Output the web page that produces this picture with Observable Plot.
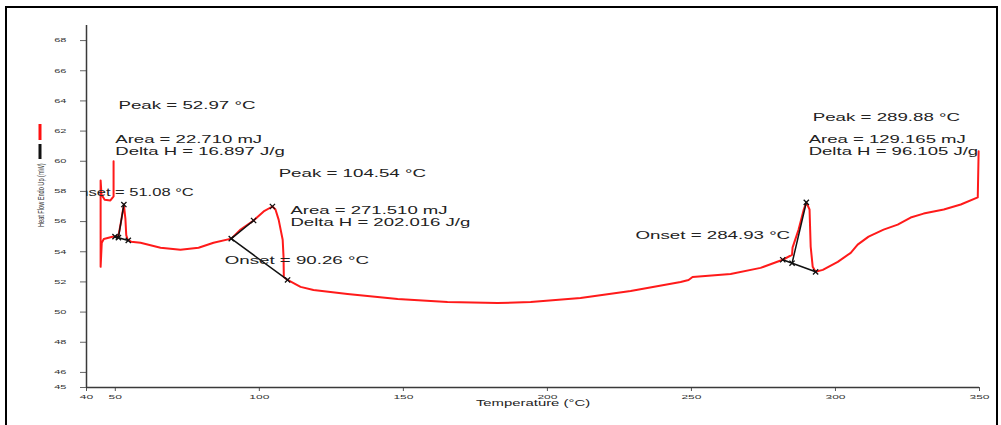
<!DOCTYPE html>
<html>
<head>
<meta charset="utf-8">
<script src="https://cdn.jsdelivr.net/npm/d3@7"></script>
<script src="https://cdn.jsdelivr.net/npm/@observablehq/plot@0.6"></script>
<style>
  html, body { margin: 0; padding: 0; background: #fff; }
  #wrap { position: relative; width: 1001px; height: 425px; overflow: hidden;
          font-family: "Liberation Sans", Arial, sans-serif; }
  #chart { position: absolute; left: 0; top: 0; }
  #frame { position: absolute; left: 5px; top: 6px; width: 993px; height: 440px;
           border: 2px solid #000; box-sizing: border-box; pointer-events: none; }
  #legend { position: absolute; left: 36px; top: 122px; }
  .ytitle { position: absolute; left: 37px; top: 195px; white-space: nowrap;
            font-size: 5.6px; color: #333; transform-origin: 0 0;
            transform: translate(-2px, 32px) rotate(-90deg) scaleY(1.7); }
  .xtitle { position: absolute; left: 533px; top: 398px; white-space: nowrap;
            font-size: 8.5px; color: #222; transform: translateX(-50%) scaleX(1.75); }
</style>
</head>
<body>
<div id="wrap">
  <div id="chart"></div>
  <div class="ytitle">Heat Flow Endo Up (mW)</div>
  <div class="xtitle">Temperature (°C)</div>
  <svg id="legend" width="10" height="40">
    <line x1="4" x2="4" y1="2" y2="18" stroke="#ff1010" stroke-width="3"></line>
    <line x1="4" x2="4" y1="22" y2="37" stroke="#111" stroke-width="3"></line>
  </svg>
  <div id="frame"></div>
</div>
<script>
// DSC heating scan: temperature (°C) and heat flow, endo up (mW)
const temperature = [
  49.4, 49.4, 48.3, 46.3, 45.2, 44.9, 44.9, 45.3, 46.0, 49.0,
  49.9, 51.08, 51.9, 52.97, 53.5, 53.8, 54.3, 55.5, 58.75, 65.7,
  72.6, 78.9, 84.1, 90.26, 93.5, 98.0, 101.5, 104.54, 105.6, 106.7,
  108.1, 108.4, 108.5, 109.8, 114.3, 118.8, 130.6, 148.0, 165.3, 182.7,
  194.2, 211.5, 228.9, 246.25, 249.0, 250.4, 263.6, 274.0, 281.7, 284.93,
  285.1, 287.2, 289.0, 289.88, 291.0, 291.4, 292.1, 293.1, 295.6, 300.8,
  305.3, 307.7, 311.5, 316.7, 321.6, 326.1, 330.6, 337.6, 343.5, 349.4,
  349.7
];
const heatFlow = [
  60.0, 57.67, 57.4, 57.45, 57.8, 58.73, 53.0, 54.6, 54.85, 55.0,
  55.0, 55.05, 55.9, 57.13, 56.2, 55.1, 54.8, 54.67, 54.6, 54.27,
  54.13, 54.27, 54.6, 54.87, 55.47, 56.07, 56.67, 57.0, 56.8, 56.13,
  54.8, 53.67, 52.33, 52.13, 51.67, 51.47, 51.2, 50.87, 50.67, 50.6,
  50.67, 50.93, 51.4, 52.0, 52.13, 52.33, 52.53, 52.93, 53.47, 53.8,
  54.27, 55.47, 56.8, 57.27, 56.8, 54.33, 53.0, 52.67, 52.8, 53.33,
  53.93, 54.47, 55.0, 55.47, 55.8, 56.27, 56.53, 56.8, 57.13, 57.6,
  60.67
];

// Peak analysis construction lines: baseline and leading-edge tangent
const constructionId = ["b1", "b1", "t1", "t1", "b2", "b2", "t2", "t2", "b3", "b3", "t3", "t3"];
const constructionT  = [49.9, 54.5, 51.08, 52.97, 90.26, 109.8, 90.26, 98.0, 281.7, 293.1, 284.93, 289.88];
const constructionHF = [55.0, 54.75, 54.94, 57.13, 54.87, 52.13, 54.87, 56.07, 53.47, 52.67, 53.24, 57.27];

// Analysis markers (limits, onset, peak)
const markerT  = [49.9, 51.08, 52.97, 54.5, 90.26, 98.0, 104.54, 109.8, 281.7, 284.93, 289.88, 293.1];
const markerHF = [55.0, 54.94, 57.13, 54.75, 54.87, 56.07, 57.0, 52.13, 53.47, 53.24, 57.27, 52.67];

// Peak and onset results
const labelText = [
  "Peak = 52.97 °C", "Peak = 104.54 °C", "Onset = 90.26 °C",
  "Peak = 289.88 °C", "Onset = 284.93 °C"
];
const labelT  = [51.1, 106.7, 88.0, 292.1, 230.6];
const labelHF = [63.67, 59.2, 53.4, 62.87, 55.07];

// Enthalpy results (area and specific enthalpy, one pair per peak)
const enthalpyText = [
  "Area = 22.710 mJ", "Delta H = 16.897 J/g",
  "Area = 271.510 mJ", "Delta H = 202.016 J/g",
  "Area = 129.165 mJ", "Delta H = 96.105 J/g"
];
const enthalpyT  = [50.0, 50.0, 110.8, 110.8, 290.7, 290.7];
const enthalpyHF = [61.45, 60.65, 56.74, 55.94, 61.45, 60.65];

// Onset of the first event, written to the left of its peak (cut by the axis)
const onset1Text = ["Onset = 51.08 °C"];
const onset1T = [77.2];
const onset1HF = [57.93];

const xTicks = [40, 50, 100, 150, 200, 250, 300, 350];
const yTicks = [45, 46, 48, 50, 52, 54, 56, 58, 60, 62, 64, 66, 68];

const trace = temperature.map((t, i) => ({t, hf: heatFlow[i]}));
const construction = constructionT.map((t, i) => ({id: constructionId[i], t, hf: constructionHF[i]}));
const markers = markerT.map((t, i) => ({t, hf: markerHF[i]}));
const labels = labelText.map((text, i) => ({text, t: labelT[i], hf: labelHF[i]}));
const enthalpy = enthalpyText.map((text, i) => ({text, t: enthalpyT[i], hf: enthalpyHF[i]}));
const onset1 = onset1Text.map((text, i) => ({text, t: onset1T[i], hf: onset1HF[i]}));

const font = "'Liberation Sans', Arial, sans-serif";

const chart = Plot.plot({
  width: 1001,
  height: 425,
  marginLeft: 86,
  marginRight: 22,
  marginTop: 25,
  marginBottom: 38,
  style: {fontFamily: font, background: "transparent", overflow: "visible"},
  x: {domain: [40, 350]},
  y: {domain: [45, 69]},
  marks: [
    Plot.axisX({ticks: xTicks, tickSize: 4, tickPadding: 3, fontSize: 6, label: null,
                stroke: "#555", fill: "#333", className: "xtick"}),
    Plot.axisY({ticks: yTicks, tickSize: 6, tickPadding: 14, fontSize: 5.5, label: null,
                stroke: "#666", fill: "#333", className: "ytick"}),
    Plot.ruleX([40], {stroke: "#3a3a3a", strokeWidth: 1.5}),
    Plot.ruleY([45], {stroke: "#3a3a3a", strokeWidth: 1.5}),
    Plot.line(trace, {x: "t", y: "hf", stroke: "#ff1a1a", strokeWidth: 2, strokeLinejoin: "round"}),
    Plot.line(construction, {x: "t", y: "hf", z: "id", stroke: "#111", strokeWidth: 1.5}),
    Plot.dot(markers, {x: "t", y: "hf", symbol: "times", r: 2.5, stroke: "#111", strokeWidth: 1.3}),
    Plot.text(labels, {x: "t", y: "hf", text: "text", textAnchor: "start", fontSize: 11,
                       fill: "#222", className: "ann"}),
    Plot.text(enthalpy, {x: "t", y: "hf", text: "text", textAnchor: "start", fontSize: 10.3,
                         fill: "#222", className: "ann-dh"}),
    Plot.text(onset1, {x: "t", y: "hf", text: "text", textAnchor: "end", fontSize: 11,
                       fill: "#222", clip: true, className: "ann-cut"})
  ]
});
document.getElementById("chart").append(chart);

// Widen text horizontally to the proportions of the instrument printout
function widen(selector, k) {
  chart.querySelectorAll(selector).forEach(el => {
    const w = el.getComputedTextLength();
    if (w > 0) {
      el.setAttribute("textLength", (w * k).toFixed(2));
      el.setAttribute("lengthAdjust", "spacingAndGlyphs");
    }
  });
}
widen(".ann text", 1.7);
widen(".ann-dh text", 1.8);
widen(".ann-cut text", 1.5);
widen(".xtick text, g[aria-label='x-axis tick label'] text", 2.0);
widen(".ytick text, g[aria-label='y-axis tick label'] text", 2.0);
</script>
</body>
</html>
